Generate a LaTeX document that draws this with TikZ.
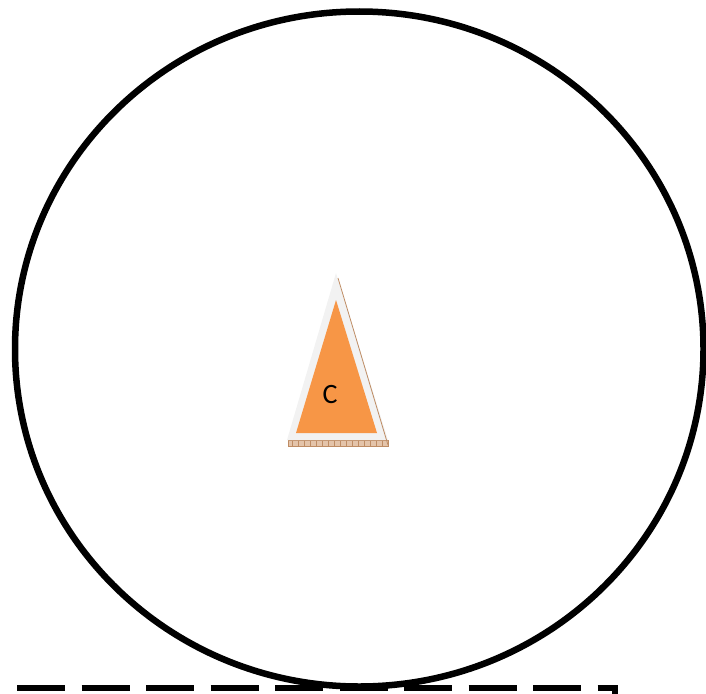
\documentclass[tikz,border=0pt]{standalone}
\usepackage{fontspec}
\setsansfont{Carlito}
\usepackage{tikz}
\usetikzlibrary{calc}
\definecolor{ink}{RGB}{0,0,0}
\definecolor{cone}{RGB}{247,150,70}
\definecolor{halo}{RGB}{242,242,242}
\definecolor{rim}{RGB}{190,140,100}
\definecolor{sand}{RGB}{228,196,170}

\begin{document}
\begin{tikzpicture}[x=1pt,y=-1pt,font=\sffamily,
 ring/.style={draw=ink,line width=6.5pt},
 edge/.style={draw=ink,line width=6pt,dash pattern=on 48pt off 16.5pt},
 lbl/.style={font=\fontsize{28pt}{28pt}\selectfont\sffamily,inner sep=0pt}]
 \useasboundingbox (0,0) rectangle (706,693);
 % outer circle
 \draw[ring] (359.25,349) ellipse [x radius=344.25, y radius=337.5];
 % the cone marker
 \fill[sand,draw=rim,line width=0.5pt] (288,440) rectangle (388,446);
 \foreach \i in {292,298,...,386}
  \draw[rim,line width=0.3pt] (\i,440) -- (\i,446);
 \fill[halo] (336,273) -- (287,440) -- (388,440) -- cycle;
 \draw[rim,line width=0.8pt] (338,278) -- (388,445);
 \fill[cone] (336,300) -- (296,433) -- (377,433) -- cycle;
 \node[lbl](c) at (330,395){C};
 % dashed border below
 \coordinate (d1) at (17,688);
 \coordinate (d2) at (615,688);
 \coordinate (d3) at (615,710);
 \draw[edge] (d1) -- (d2) -- (d3);
\end{tikzpicture}
\end{document}
